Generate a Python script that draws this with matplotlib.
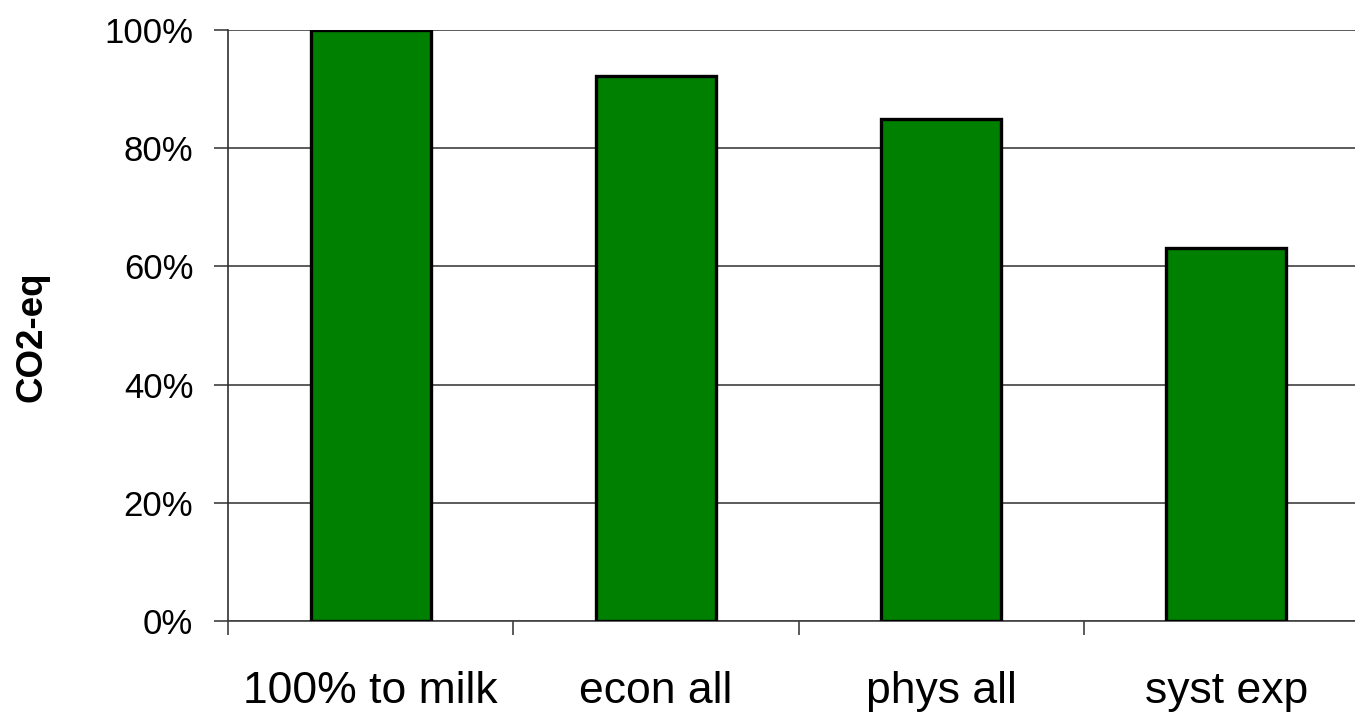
import matplotlib
matplotlib.use("Agg")
import matplotlib.pyplot as plt
from matplotlib.ticker import PercentFormatter

categories = ["100% to milk", "econ all", "phys all", "syst exp"]
values = [1.00, 0.922, 0.849, 0.631]
yticks = [0, 0.2, 0.4, 0.6, 0.8, 1.0]

plt.rcParams["font.family"] = ["Liberation Sans", "DejaVu Sans"]

fig = plt.figure(figsize=(13.55, 7.12), dpi=100)
ax = fig.add_axes([0.1683, 0.1278, 0.8420, 0.8300])

x = list(range(len(categories)))
ax.bar(x, values, width=0.42, color="#008000", edgecolor="black", linewidth=2.4, zorder=3)

ax.set_xlim(-0.5, len(categories) - 0.5)
ax.set_ylim(0, 1.0)
ax.set_yticks(yticks)
ax.yaxis.set_major_formatter(PercentFormatter(1.0, decimals=0))
ax.yaxis.grid(True, color="#404040", linewidth=1.2, zorder=0)

# category labels centred on bars, tick marks between categories
ax.set_xticks(x)
ax.set_xticklabels(categories, fontsize=32)
ax.set_xticks([i - 0.5 for i in range(len(categories) + 1)], minor=True)
ax.tick_params(axis="x", which="major", length=0, pad=36)
ax.tick_params(axis="x", which="minor", length=10, width=1.2, color="#404040", direction="out")
ax.tick_params(axis="y", labelsize=25, length=10, width=1.2, color="#404040", pad=15)

for side in ["top", "right"]:
    ax.spines[side].set_visible(False)
ax.spines["left"].set_color("#303030")
ax.spines["left"].set_linewidth(1.2)
ax.spines["bottom"].set_color("#404040")
ax.spines["bottom"].set_linewidth(1.2)

fig.text(0.0236, 0.527, "CO2-eq", rotation=90, ha="center", va="center",
         fontsize=26.5, fontweight="bold")

fig.savefig("out.png", dpi=100, facecolor="white")
